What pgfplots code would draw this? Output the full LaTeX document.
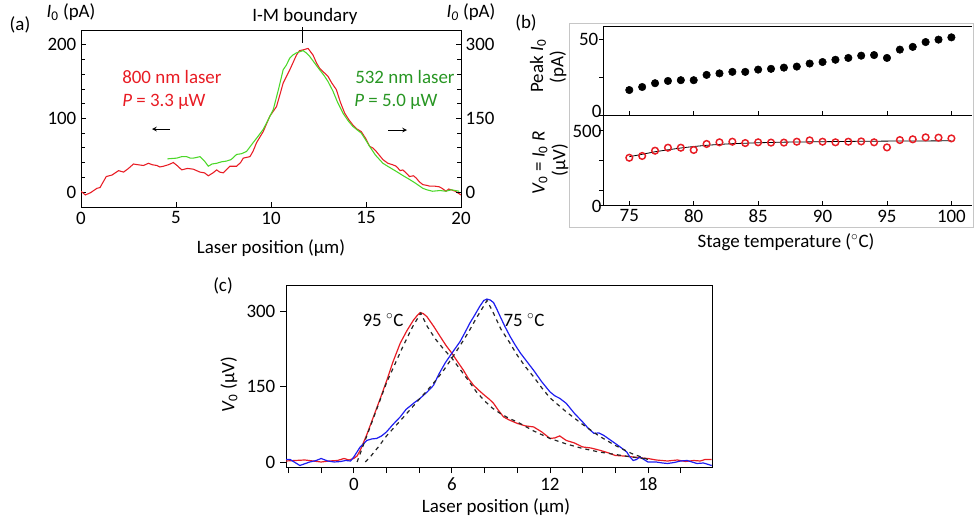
\documentclass[border=0pt]{standalone}
\usepackage{pgfplots}
\pgfplotsset{compat=1.18}
\usepackage{fontspec}
\setmainfont{Carlito}
\definecolor{cred}{RGB}{232,28,36}
\definecolor{cgreen}{RGB}{75,215,40}
\definecolor{cgreentxt}{RGB}{40,150,35}
\definecolor{cblue}{RGB}{30,30,240}
\newcommand{\fs}{\fontsize{14.2}{17}\selectfont}
\pgfplotsset{every axis/.append style={scale only axis, anchor=south west,
  tick label style={font=\fs}, label style={font=\fs},
  /pgf/number format/assume math mode=true,
  axis line style={line width=0.7pt},
  every tick/.append style={line width=0.6pt, black}}}
\begin{document}
\begin{tikzpicture}
\path[use as bounding box] (0,0) rectangle (730.5pt,-391.5pt);
% ---------------- panel (a)
\begin{axis}[at={(60.75pt,-155.25pt)}, width=285pt, height=132.75pt,
  xmin=0, xmax=20, ymin=-20.4, ymax=220,
  xtick={0,5,10,15,20}, ytick={0,100,200},
  minor ytick={20,40,60,80,120,140,160,180},
  tick align=inside, xtick pos=bottom, ytick pos=left,
  major tick length=4pt, minor tick length=3pt]
\addplot[cred, line width=0.8pt] coordinates {
(0,1)(0.23,-4)(0.5,-1)(0.84,5)(1.0,6)(1.33,21)(1.63,23)(1.98,29)(2.24,27)(2.5,32)(2.76,38)(3.0,37)(3.29,36)(3.55,39)(3.75,37)(3.99,36)(4.15,34)(4.34,35)(4.6,37)(4.86,40)(5.1,35)(5.3,30)(5.6,32)(5.91,31)(6.26,27)(6.5,26)(6.7,22)(6.95,26)(7.14,30)(7.3,27)(7.49,26)(7.84,35)(8.19,35)(8.4,40)(8.54,46)(8.89,48)(9.05,55)(9.24,67)(9.59,82)(9.94,103)(10.29,116)(10.5,135)(10.64,148)(10.99,166)(11.34,186)(11.5,192)(11.69,193)(11.95,195)(12.21,186)(12.4,175)(12.56,168)(12.8,162)(13.0,157)(13.2,148)(13.44,139)(13.65,122)(13.88,107)(14.1,98)(14.31,91)(14.5,86)(14.75,82)(15.0,72)(15.19,62)(15.35,60)(15.54,55)(15.7,50)(15.89,44)(16.15,39)(16.4,37)(16.59,35)(16.8,29)(16.94,30)(17.1,26)(17.29,21)(17.5,22)(17.64,19)(17.8,14)(17.99,10)(18.2,9)(18.34,8)(18.6,8)(18.86,7)(19.0,5)(19.21,1)(19.35,4)(19.48,3)(19.7,1)(20.0,-4)};
\end{axis}
\begin{axis}[at={(60.75pt,-155.25pt)}, width=285pt, height=132.75pt,
  xmin=0, xmax=20, ymin=-30.6, ymax=330,
  axis x line=none, axis y line*=right,
  ytick={0,150,300}, minor ytick={30,60,90,120,180,210,240,270},
  tick align=inside, major tick length=4pt, minor tick length=3pt]
\addplot[cgreen, line width=0.8pt] coordinates {
(4.55,67.5)(5.04,69)(5.3,72)(5.56,72)(5.75,69)(5.91,69)(6.1,70.5)(6.26,72)(6.5,63)(6.7,52.5)(6.9,57)(7.14,58.5)(7.4,61.5)(7.66,63)(7.9,66)(8.19,76.5)(8.45,78)(8.71,82.5)(9.06,100.5)(9.3,112.5)(9.59,127.5)(9.85,147)(10.12,168)(10.4,210)(10.64,249)(10.8,258)(10.99,273)(11.15,279)(11.34,283.5)(11.69,288)(11.85,283.5)(12.04,276)(12.3,262.5)(12.56,249)(12.8,237)(13.0,225)(13.26,205.5)(13.5,183)(13.79,160.5)(14.05,145.5)(14.31,133.5)(14.55,126)(14.75,120)(15.0,105)(15.19,93)(15.5,75)(15.89,58.5)(16.2,51)(16.59,42)(16.9,34.5)(17.29,25.5)(17.6,18)(17.99,7.5)(18.2,4.5)(18.5,1.5)(18.9,3)(19.2,1.5)(19.5,4.5)(19.9,1.5)};
\end{axis}
\node[font=\fs] at (15pt,-18.75pt) {(a)};
\node[font=\fs] at (53.25pt,-9pt) {\textit{I}\textsubscript{0} (pA)};
\node[font=\fs] at (353.25pt,-9pt) {\textit{I}\textsubscript{\textit{0}} (pA)};
\node[font=\fs] at (228.75pt,-12pt) {I-M boundary};
\draw[line width=0.6pt] (227pt,-20.25pt) -- (227pt,-32.25pt);
\node[font=\fs, text=cred, anchor=west, inner sep=0pt] at (91.5pt,-57.75pt) {800 nm laser};
\node[font=\fs, text=cred, anchor=west, inner sep=0pt] at (91.5pt,-76.5pt) {\textit{P} = 3.3 μW};
\draw[-stealth, line width=0.6pt] (127.5pt,-96.75pt) -- (114pt,-96.75pt);
\node[font=\fs, text=cgreentxt, anchor=west, inner sep=0pt] at (266.25pt,-57.75pt) {532 nm laser};
\node[font=\fs, text=cgreentxt, anchor=west, inner sep=0pt] at (265.5pt,-76.5pt) {\textit{P} = 5.0 μW};
\draw[-stealth, line width=0.6pt] (291pt,-97.5pt) -- (305.25pt,-97.5pt);
\node[font=\fs] at (203.25pt,-186pt) {Laser position (μm)};
% ---------------- panel (b)
\draw[gray!45, line width=0.6pt] (426.75pt,-17.25pt) rectangle (729.75pt,-170.25pt);
\begin{axis}[at={(452.25pt,-86.25pt)}, width=276.75pt, height=66.75pt,
  xmin=72.96, xmax=101.6, ymin=0, ymax=58.8,
  axis x line=box, axis y line*=left,
  xtick={75,80,...,100}, xticklabels={}, ytick={50}, minor ytick={25},
  extra y ticks={0},
  extra y tick style={yticklabel style={yshift=3pt, inner sep=1pt}},
  tick align=inside, xtick pos=bottom, ytick pos=left,
  major tick length=3pt, minor tick length=3pt,
  y tick style={xshift=-3pt}]
\addplot[only marks, mark=*, mark size=2.8pt, black] coordinates {
(75,16.5)(76,18.5)(77,21)(78,22.5)(79,23)(80,23)(81,26.5)(82,27.5)(83,28.5)(84,28.5)(85,30)(86,30.5)(87,31.3)(88,32)(89,34)(90,35)(91,36.5)(92,37.7)(93,39.2)(94,39.6)(95,37.7)(96,43.2)(97,45)(98,48.2)(99,49.8)(100,51.3)};
\end{axis}
\begin{axis}[at={(452.25pt,-153.75pt)}, width=276.75pt, height=67.5pt,
  xmin=72.96, xmax=101.6, ymin=0, ymax=600,
  axis x line=box, axis y line*=left,
  xtick={75,80,...,100}, ytick={0,500}, minor ytick={100,300},
  yticklabel style={inner sep=1pt, yshift=-1pt},
  tick align=inside, xtick pos=bottom, ytick pos=left,
  major tick length=3pt, minor tick length=3pt,
  y tick style={xshift=-3pt}]
\addplot[black, line width=0.6pt] coordinates {
(75,322)(76,338)(77,355)(78,368)(79,380)(80,390)(81,398)(82,404)(83,409)(84,412)(85,415)(86,417)(87,419)(88,420)(90,422)(92,424)(95,426)(100,428)};
\addplot[only marks, mark=o, mark size=2.5pt, cred, line width=1.1pt] coordinates {
(75,315)(76,327)(77,362)(78,382)(79,382)(80,367)(81,407)(82,418)(83,422)(84,413)(85,418)(86,416)(87,416)(88,422)(89,431)(90,422)(91,418)(92,422)(93,424)(94,418)(95,384)(96,433)(97,438)(98,451)(99,449)(100,444)};
\end{axis}
\node[font=\fs] at (394.5pt,-17.25pt) {(b)};
\node[font=\fs, rotate=90] at (403.5pt,-49.5pt) {Peak \textit{I}\textsubscript{0}};
\node[font=\fs, rotate=90] at (418.5pt,-50.25pt) {(pA)};
\node[font=\fs, rotate=90] at (405pt,-122.25pt) {\textit{V}\textsubscript{0} = \textit{I}\textsubscript{0} \textit{R}};
\node[font=\fs, rotate=90] at (420pt,-120pt) {(μV)};
\node[font=\fs] at (589.5pt,-181.5pt) {Stage temperature ($^\circ$C)};
% ---------------- panel (c)
\begin{axis}[at={(214.5pt,-350.25pt)}, width=319.5pt, height=136.5pt,
  xmin=-4.15, xmax=21.92, ymin=-10, ymax=353,
  xtick={0,6,12,18}, minor xtick={-4,-2,2,4,8,10,14,16,20},
  ytick={0,150,300},
  tick align=outside, xtick pos=bottom, ytick pos=left,
  major tick length=4.5pt, minor tick length=4.5pt]
\addplot[cred, line width=0.9pt] coordinates {
(-4.15,2)(-3.6,3)(-3.0,4)(-2.5,2)(-2.0,0)(-1.5,2)(-1.0,3)(-0.6,7)(-0.3,4)(0,7)(0.2,12)(0.39,23)(0.8,55)(1.2,90)(1.6,125)(2.02,163)(2.4,200)(2.84,237)(3.25,262)(3.65,283)(3.9,293)(4.06,298)(4.25,296)(4.47,290)(4.9,270)(5.29,250)(5.65,232)(6.0,217)(6.35,200)(6.71,183)(7.0,167)(7.33,153)(7.65,143)(8.0,133)(8.3,125)(8.55,117)(8.85,103)(9.16,90)(9.5,84)(10.0,77)(10.5,72)(11.0,70)(11.5,60)(12.0,47)(12.3,48)(12.6,52)(13.0,43)(13.5,38)(14.0,30)(14.5,28)(15.1,23)(15.6,18)(16.0,13)(16.5,12)(17.1,10)(17.6,8)(18.0,7)(18.5,4)(19.2,2)(19.8,4)(20.3,1)(20.8,3)(21.2,2)(21.5,5)(21.9,5)};
\addplot[cblue, line width=0.9pt] coordinates {
(-4.15,5)(-3.9,5)(-3.3,-7)(-2.7,0)(-2.3,3)(-2.0,7)(-1.6,2)(-1.2,0)(-0.8,1)(-0.5,3)(-0.2,2)(0,10)(0.39,30)(0.8,43)(1.1,46)(1.4,47)(1.7,52)(2.0,60)(2.4,75)(2.84,90)(3.2,105)(3.65,117)(4.06,127)(4.5,140)(4.88,153)(5.2,175)(5.6,198)(6.0,217)(6.5,240)(6.8,258)(7.1,277)(7.4,293)(7.7,310)(7.95,322)(8.14,325)(8.35,323)(8.55,318)(8.75,305)(8.96,290)(9.25,270)(9.57,250)(9.9,232)(10.2,217)(10.6,200)(11.0,183)(11.5,160)(12.0,140)(12.3,132)(12.6,127)(13.0,117)(13.5,97)(14.0,80)(14.35,67)(14.7,57)(15.0,58)(15.3,53)(15.65,45)(16.0,37)(16.3,30)(16.7,20)(16.9,10)(17.1,3)(17.3,5)(17.5,10)(17.75,5)(18.0,0)(18.5,0)(18.9,-2)(19.2,-3)(19.6,-1)(20.0,2)(20.4,3)(20.7,0)(21.0,-3)(21.4,-2)(21.9,-7)};
\addplot[black!85, dashed, line width=0.9pt] coordinates {
(0.2,0)(1,70)(2,158)(3,230)(3.6,270)(4.1,297)(4.5,270)(5,245)(5.5,225)(6,207)(6.5,185)(7,163)(7.5,140)(8,122)(8.5,107)(9,96)(9.5,87)(10,80)(11,62)(12,47)(13,36)(14,27)(15,20)(16,15)(17,10)(18,6)};
\addplot[black!85, dashed, line width=0.9pt] coordinates {
(0.7,0)(1,10)(1.5,30)(2,52)(3,88)(4,125)(4.5,143)(5,162)(5.5,183)(6,207)(6.5,232)(7,258)(7.5,287)(8.15,322)(8.5,300)(9,265)(9.5,240)(10,213)(10.5,190)(11,170)(11.5,148)(12,128)(13,100)(14,75)(15,52)(16,33)(17,17)(18,5)};
\end{axis}
\node[font=\fs] at (167.25pt,-214.5pt) {(c)};
\node[font=\fs] at (287.25pt,-240pt) {95 $^\circ$C};
\node[font=\fs] at (393pt,-240pt) {75 $^\circ$C};
\node[font=\fs, rotate=90] at (171.75pt,-288.75pt) {\textit{V}\textsubscript{0} (μV)};
\node[font=\fs] at (372pt,-380.25pt) {Laser position (μm)};
\end{tikzpicture}
\end{document}
